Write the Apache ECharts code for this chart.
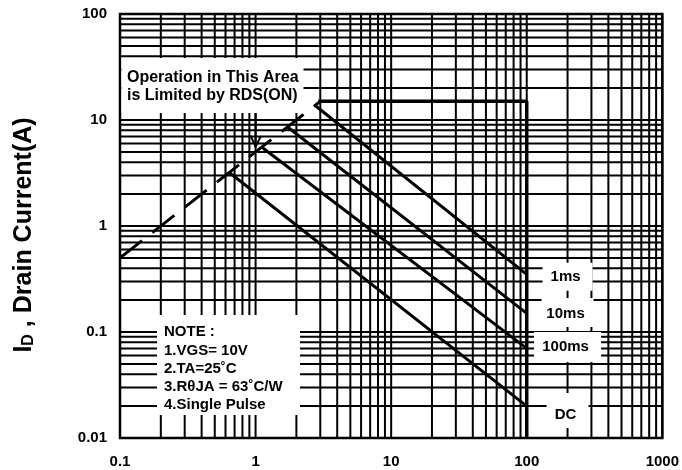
<!DOCTYPE html>
<html>
<head>
<meta charset="utf-8">
<script src="https://cdn.jsdelivr.net/npm/echarts@6/dist/echarts.min.js"></script>
<style>
  html, body { margin: 0; padding: 0; background: #fff; }
  #chart { width: 682px; height: 470px; }
</style>
</head>
<body>
<div id="chart"></div>
<script>
// Log-decade ticks of both axes
const xTickValues = [0.1, 1, 10, 100, 1000];
const xTickLabels = ['0.1', '1', '10', '100', '1000'];
const yTickValues = [0.01, 0.1, 1, 10, 100];
const yTickLabels = ['0.01', '0.1', '1', '10', '100'];

// Safe operating area boundaries, points are [VDS (V), ID (A)]
const rdsOnLimit   = [[0.1, 0.5], [3, 15]];
const currentLimit = [[2.9, 15], [100, 15], [100, 0.01]];
const pulse1ms     = [[2.75, 13.7], [100, 0.35]];
const pulse10ms    = [[1.72, 8.6], [100, 0.15]];
const pulse100ms   = [[1.1, 5.6], [100, 0.07]];
const dcLine       = [[0.64, 3.2], [100, 0.02]];
// Arrow from the RDS(ON) note down to the limit line: [V, I top, I tip]
const rdsArrow     = [1, 11.6, 5.6];

// Curve names and where their labels sit
const curveNames   = ['1ms', '10ms', '100ms', 'DC'];
const curveLabelAt = [[200, 0.332], [200, 0.148], [200, 0.0722], [200, 0.0165]];

const noteLines = ['NOTE :', '1.VGS= 10V', '2.TA=25˚C', '3.RθJA = 63˚C/W', '4.Single Pulse'];
const rdsNote   = ['Operation in This Area', 'is Limited by RDS(ON)'];

const FONT = '"Liberation Sans", Arial, Helvetica, sans-serif';
const xMin = xTickValues[0], xMax = xTickValues[xTickValues.length - 1];
const yMin = yTickValues[0], yMax = yTickValues[yTickValues.length - 1];

// 1..9 multiples of every decade, for the log grid
function logGridValues(ticks) {
  const out = [];
  for (let i = 0; i < ticks.length - 1; i++) {
    for (let k = 1; k <= 9; k++) out.push(+(ticks[i] * k).toPrecision(6));
  }
  out.push(ticks[ticks.length - 1]);
  return out;
}
const gridX = logGridValues(xTickValues);
const gridY = logGridValues(yTickValues);

function tickFormatter(values, labels) {
  return function (v) {
    let best = 0, bd = Infinity;
    values.forEach(function (t, i) {
      const d = Math.abs(Math.log10(t) - Math.log10(v));
      if (d < bd) { bd = d; best = i; }
    });
    return labels[best];
  };
}

const GRID_W = 2;

function renderVGrid(params, api) {
  const v = api.value(0);
  const a = api.coord([v, yMin]);
  const b = api.coord([v, yMax]);
  return { type: 'line', shape: { x1: a[0], y1: a[1], x2: b[0], y2: b[1] },
           style: { stroke: '#000', lineWidth: GRID_W } };
}
function renderHGrid(params, api) {
  const v = api.value(1);
  const a = api.coord([xMin, v]);
  const b = api.coord([xMax, v]);
  return { type: 'line', shape: { x1: a[0], y1: a[1], x2: b[0], y2: b[1] },
           style: { stroke: '#000', lineWidth: GRID_W } };
}
function renderArrow(params, api) {
  const top = api.coord([api.value(0), api.value(1)]);
  const tip = api.coord([api.value(0), api.value(2)]);
  return {
    type: 'group',
    children: [
      { type: 'line', shape: { x1: top[0], y1: top[1], x2: tip[0], y2: tip[1] },
        style: { stroke: '#000', lineWidth: 2 } },
      { type: 'polyline', shape: { points: [[tip[0] - 5, tip[1] - 11], [tip[0], tip[1]], [tip[0] + 5, tip[1] - 10]] },
        style: { stroke: '#000', lineWidth: 2, fill: null } }
    ]
  };
}

function boundary(data, width, extraStyle) {
  return {
    type: 'line', data: data, symbol: 'none', silent: true, z: 20,
    lineStyle: Object.assign({ color: '#000', width: width, cap: 'butt' }, extraStyle || {})
  };
}

const axisLabelStyle = { fontSize: 15, fontWeight: 'bold', color: '#000', fontFamily: FONT };

const chart = echarts.init(document.getElementById('chart'));
chart.setOption({
  animation: false,
  backgroundColor: '#fff',
  grid: { left: 120, right: 18, top: 14, bottom: 32, show: true, borderColor: '#000', borderWidth: 2.5 },
  xAxis: {
    type: 'log', logBase: 10, min: xMin, max: xMax,
    axisLine: { show: false }, axisTick: { show: false }, splitLine: { show: false },
    axisLabel: Object.assign({ formatter: tickFormatter(xTickValues, xTickLabels), margin: 16 }, axisLabelStyle)
  },
  yAxis: {
    type: 'log', logBase: 10, min: yMin, max: yMax,
    axisLine: { show: false }, axisTick: { show: false }, splitLine: { show: false },
    axisLabel: Object.assign({ formatter: tickFormatter(yTickValues, yTickLabels), margin: 13 }, axisLabelStyle)
  },
  series: [
    { type: 'custom', renderItem: renderVGrid, data: gridX.map(v => [v, yMin]), z: 1, silent: true, clip: false },
    { type: 'custom', renderItem: renderHGrid, data: gridY.map(v => [xMin, v]), z: 1, silent: true, clip: false },
    boundary(rdsOnLimit, 3, { type: [28, 13] }),
    boundary(currentLimit, 3.5),
    boundary(pulse1ms, 3),
    boundary(pulse10ms, 3),
    boundary(pulse100ms, 3),
    boundary(dcLine, 3),
    { type: 'custom', renderItem: renderArrow, data: [rdsArrow], encode: { x: 0, y: [1, 2] }, z: 20, silent: true }
  ]
});

// Annotation boxes (white panels that mask the grid) and the axis title
const graphics = [];
function panel(x, y, w, h) {
  graphics.push({ type: 'rect', silent: true, z: 50, shape: { x: x, y: y, width: w, height: h }, style: { fill: '#fff' } });
}
function label(x, y, text, size, align, vAlign, lineHeight) {
  graphics.push({
    type: 'text', silent: true, z: 51, x: x, y: y,
    style: {
      text: text, fill: '#000', font: 'bold ' + size + 'px ' + FONT,
      align: align, verticalAlign: vAlign, textAlign: align, textVerticalAlign: vAlign,
      lineHeight: lineHeight || size
    }
  });
}

// RDS(ON) note
panel(121.5, 58, 182, 55);
label(127, 69, rdsNote.join('\n'), 16, 'left', 'top', 18);

// Test conditions note
panel(157, 315, 143, 100);
label(164, 323, noteLines.join('\n'), 15, 'left', 'top', 18.25);

// Curve labels
const boxSize = [[50, 28, 0], [52, 29, -1.5], [67, 30, 0], [42, 35, -4.5]];
curveNames.forEach(function (name, i) {
  const p = chart.convertToPixel({ gridIndex: 0 }, curveLabelAt[i]);
  const s = boxSize[i];
  panel(p[0] - s[0] / 2, p[1] + s[2] - s[1] / 2, s[0], s[1]);
  label(p[0] - 2, p[1], name, 15, 'center', 'middle');
});

// Y axis title with subscript D
graphics.push({
  type: 'text', silent: true, z: 51, x: 24, y: 235, rotation: Math.PI / 2,
  style: {
    text: '{m|I}{s|D}{m| , Drain Current(A)}',
    fill: '#000', align: 'center', verticalAlign: 'middle', textAlign: 'center', textVerticalAlign: 'middle',
    rich: {
      m: { font: 'bold 25px ' + FONT, fill: '#000' },
      s: { font: 'bold 16px ' + FONT, fill: '#000', padding: [10, 0, 0, 0] }
    }
  }
});

chart.setOption({ graphic: graphics });
</script>
</body>
</html>
